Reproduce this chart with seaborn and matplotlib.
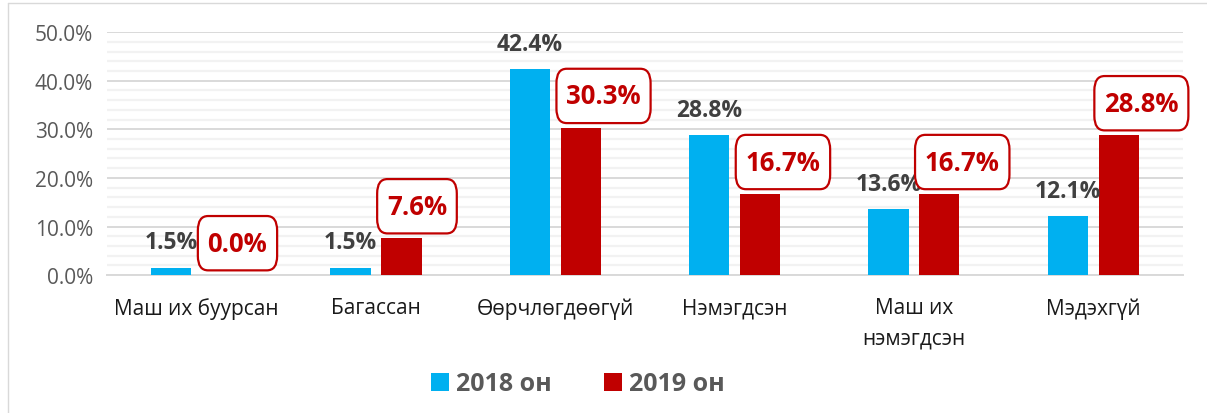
import pandas as pd
import matplotlib.pyplot as plt
import matplotlib.lines as mlines
from matplotlib.ticker import MultipleLocator, PercentFormatter
import seaborn as sns

# Өгөгдөл
categories = ['Маш их буурсан', 'Багассан', 'Өөрчлөгдөөгүй', 'Нэмэгдсэн',
              'Маш их\nнэмэгдсэн', 'Мэдэхгүй']
values_2018 = [0.015, 0.015, 0.424, 0.288, 0.136, 0.121]
values_2019 = [0.000, 0.076, 0.303, 0.167, 0.167, 0.288]
series_names = ['2018 он', '2019 он']

blue = '#00B0F0'
red = '#C00000'

df = pd.DataFrame({
    'ангилал': categories * 2,
    'хувь': values_2018 + values_2019,
    'он': [series_names[0]] * len(categories) + [series_names[1]] * len(categories),
})

sns.set_style('white')
plt.rcParams['font.family'] = ['Open Sans', 'Noto Sans', 'DejaVu Sans']

fig = plt.figure(figsize=(12.07, 4.14), dpi=100)
ax = fig.add_axes([0.0887, 0.333, 0.8913, 0.587])

sns.barplot(data=df, x='ангилал', y='хувь', hue='он', order=categories,
            palette=[blue, red], width=0.568, gap=0.21, saturation=1,
            linewidth=0, legend=True, ax=ax, zorder=3)

ax.set_ylim(0, 0.5)
ax.set_xlim(-0.5, len(categories) - 0.5)
ax.yaxis.set_major_locator(MultipleLocator(0.1))
ax.yaxis.set_minor_locator(MultipleLocator(0.02))
ax.yaxis.set_major_formatter(PercentFormatter(1.0, decimals=1))
ax.grid(axis='y', which='major', color='#D9D9D9', linewidth=1.4, zorder=0)
ax.grid(axis='y', which='minor', color='#F2F2F2', linewidth=1.6, zorder=0)
ax.set_axisbelow(True)
for side in ['top', 'right', 'left']:
    ax.spines[side].set_visible(False)
ax.spines['bottom'].set_color('#D9D9D9')
ax.spines['bottom'].set_linewidth(1.4)
ax.set_xlabel('')
ax.set_ylabel('')
ax.tick_params(axis='y', which='both', length=0, labelsize=15, labelcolor='#595959', pad=10)
ax.tick_params(axis='x', length=0, labelsize=15, labelcolor='#1a1a1a', pad=16)
for lbl in ax.get_xticklabels():
    lbl.set_linespacing(1.6)
    lbl.set_verticalalignment('top')

# Утгын шошго
for bar in ax.containers[0]:
    h = bar.get_height()
    ax.annotate(f'{h * 100:.1f}%', (bar.get_x() + bar.get_width() / 2, h),
                xytext=(0, 14), textcoords='offset points', ha='center',
                va='baseline', fontsize=16.5, fontweight='bold', color='#404040',
                zorder=5)
for bar in ax.containers[1]:
    h = bar.get_height()
    ax.annotate(f'{h * 100:.1f}%', (bar.get_x(), h),
                xytext=(4, 23), textcoords='offset points', ha='left',
                va='center', fontsize=18.5, fontweight='bold', color=red,
                bbox=dict(boxstyle='round,pad=0.38,rounding_size=0.4',
                          fc='white', ec=red, lw=1.6, mutation_aspect=1.4),
                zorder=6)

# Тайлбар
handles, labels = ax.get_legend_handles_labels()
ax.legend_.remove()
fig.legend(handles, labels, loc='center', bbox_to_anchor=(578 / 1207, 1 - 385 / 414),
           ncol=2, frameon=False, handlelength=0.7, handleheight=0.7,
           handletextpad=0.3, columnspacing=2.1,
           prop={'size': 18, 'weight': 'bold'}, labelcolor='#595959')

# Хүрээ
fig.add_artist(mlines.Line2D([7.5 / 1207, 7.5 / 1207], [0, 1 - 4 / 414],
                             transform=fig.transFigure, color='#D9D9D9', lw=1))
fig.add_artist(mlines.Line2D([7.5 / 1207, 1], [1 - 4 / 414, 1 - 4 / 414],
                             transform=fig.transFigure, color='#D9D9D9', lw=1))

plt.savefig('out.png', dpi=100)
